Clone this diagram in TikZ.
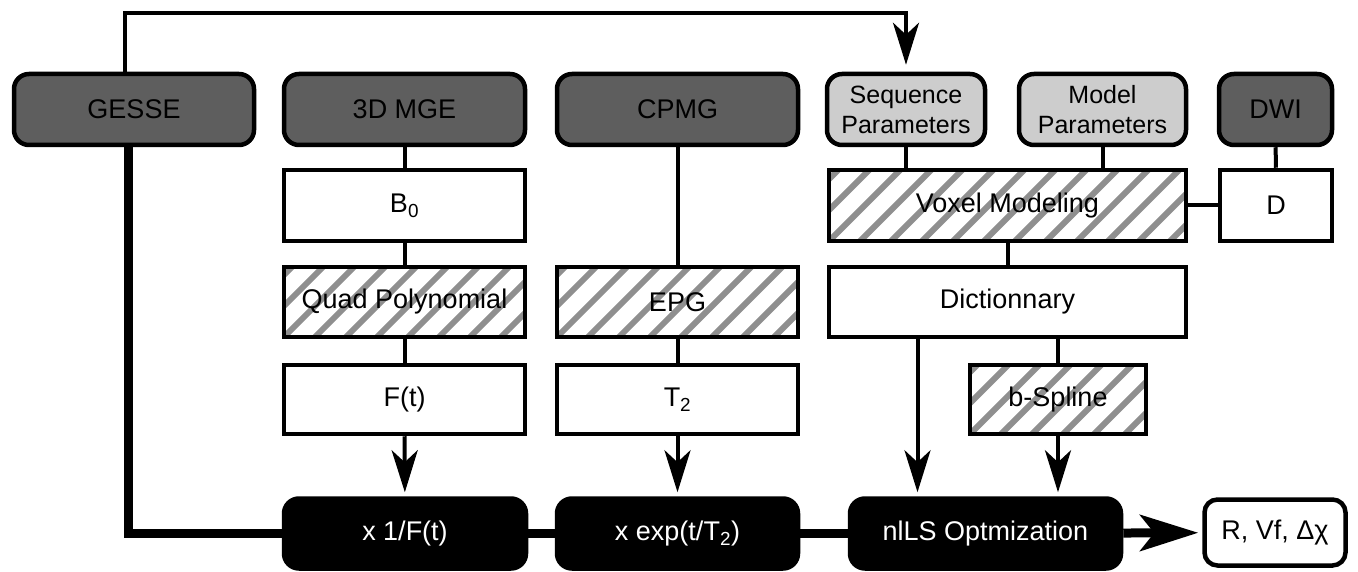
\documentclass[tikz,border=0pt]{standalone}
\usepackage{fontspec}
\setmainfont{Liberation Sans}
\usetikzlibrary{calc,arrows.meta}

\definecolor{darkbox}{HTML}{5E5E5E}
\definecolor{lightbox}{HTML}{CDCDCD}
\definecolor{hatchgray}{HTML}{8F8F8F}

\begin{document}
\begin{tikzpicture}[x=1pt,y=-1pt,>={Stealth[length=42pt,width=26pt,inset=12pt]},
  box/.style={draw,rectangle,inner sep=0pt,line width=4.5pt,align=center,
    font={\fontsize{27}{32}\selectfont}},
  whitebox/.style={box,fill=white},
  srcbox/.style={box,fill=darkbox,rounded corners=15pt,minimum height=71pt},
  parambox/.style={box,fill=lightbox,rounded corners=15pt,minimum height=71pt,
    font={\fontsize{25}{30}\selectfont}},
  hatched/.style={whitebox,path picture={
    \foreach \k in {-4,...,13}
      \draw[hatchgray,line width=6pt] ([xshift=\k*31pt]path picture bounding box.south west) -- ++(100pt,100pt);}},
  opbox/.style={box,fill=black,text=white,rounded corners=15pt,minimum height=70pt},
  wire/.style={line width=4pt},
  bus/.style={line width=9pt}]
% Page frame
\useasboundingbox (0,0) rectangle (1358,572);

% Acquisitions / inputs
\node[srcbox,minimum width=240pt] (gesse) at (134,109.5) {GESSE};
\node[srcbox,minimum width=241pt] (mge) at (404.5,109.5) {3D MGE};
\node[srcbox,minimum width=241pt] (cpmg) at (677.5,109.5) {CPMG};
\node[parambox,minimum width=158pt] (seq) at (906,109.5) {Sequence\\Parameters};
\node[parambox,minimum width=167pt] (modl) at (1102.5,109.5) {Model\\Parameters};
\node[srcbox,minimum width=113pt] (dwi) at (1275.5,109.5) {DWI};

% Maps and processing
\node[whitebox,minimum width=241pt,minimum height=71pt] (bzero) at (404.5,205.5) {B\textsubscript{0}};
\node[hatched,minimum width=357pt,minimum height=71pt] (vox) at (1007.5,205.5) {Voxel Modeling};
\node[whitebox,minimum width=112pt,minimum height=71pt] (dcoef) at (1276,205.5) {D};

\node[hatched,minimum width=241pt,minimum height=70pt] (quad) at (404.5,302) {Quad Polynomial};
\node[hatched,minimum width=241pt,minimum height=70pt] (epg) at (677.5,302) {EPG};
\node[whitebox,minimum width=357pt,minimum height=70pt] (dict) at (1007.5,302) {Dictionnary};

\node[whitebox,minimum width=241pt,minimum height=69pt] (ft) at (404.5,399.5) {F(t)};
\node[whitebox,minimum width=241pt,minimum height=69pt] (ttwo) at (677.5,399.5) {T\textsubscript{2}};
\node[hatched,minimum width=176pt,minimum height=69pt] (bsp) at (1058,399.5) {b-Spline};

% Fitting chain
\node[opbox,minimum width=242pt] (inv) at (405,533.5) {x 1/F(t)};
\node[opbox,minimum width=241pt] (xexp) at (677.5,533.5) {x exp(t/T\textsubscript{2})};
\node[opbox,minimum width=271pt] (nlls) at (985.5,533.5) {nlLS Optmization};
\node[whitebox,rounded corners=13pt,minimum width=141pt,minimum height=66pt] (res) at (1275,532.5) {R, Vf, Δχ};

% Wires
\coordinate (top) at (0,13);
\draw[wire,->,shorten >=7pt] ([xshift=-9pt]gesse.north) -- ([xshift=-9pt]gesse.north |- top) -| (seq.north);
\draw[bus] ([xshift=-6pt]gesse.south) |- (inv.west);

\draw[wire] (mge) -- (bzero);
\draw[wire] (bzero) -- (quad);
\draw[wire] (quad) -- (ft);
\draw[wire] (cpmg) -- (epg);
\draw[wire] (epg) -- (ttwo);
\draw[wire] (seq) -- (seq |- vox.north);
\draw[wire] (modl) -- (modl |- vox.north);
\draw[wire] (dwi) -- (dcoef);
\draw[wire] (vox) -- (dcoef);
\draw[wire] (vox) -- (dict);
\draw[wire] (dict.south -| bsp) -- (bsp);

% Arrows into the fit
\draw[wire,->,shorten >=4pt] (ft) -- (inv);
\draw[wire,->,shorten >=4pt] (ttwo) -- (xexp);
\draw[wire,->,shorten >=4pt] ([xshift=-90pt]dict.south) -- ([xshift=-90pt]dict.south |- nlls.north);
\draw[wire,->,shorten >=4pt] (bsp) -- (bsp |- nlls.north);

% Chain
\draw[bus] (inv) -- (xexp);
\draw[bus] (xexp) -- (nlls);
\draw[bus,-{Stealth[length=58pt,width=36pt,inset=14pt]},shorten >=4pt] (nlls) -- (res);

\end{tikzpicture}
\end{document}
